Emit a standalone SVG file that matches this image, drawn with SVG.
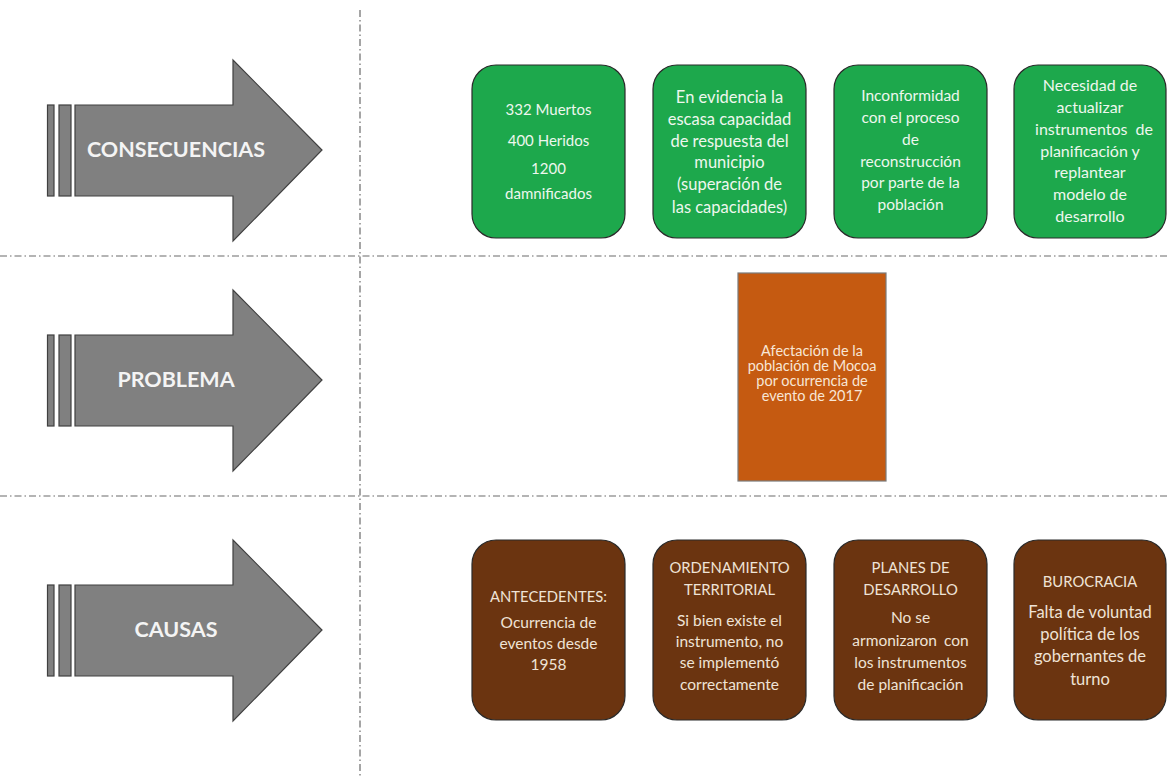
<svg xmlns="http://www.w3.org/2000/svg" width="1169" height="777" viewBox="0 0 1169 777">
<defs>
<style>
.sep{stroke:#6a6a6a;stroke-width:1.2;stroke-dasharray:7 3 1.5 3;fill:none}
.arr{fill:#808080;stroke:#404040;stroke-width:1.2}
.albl{font-family:Lato,"Open Sans",sans-serif;font-weight:bold;font-size:21.5px;fill:#f4f4f4;text-anchor:middle}
.g{fill:#1da84c;stroke:#2a2a2a;stroke-width:1.2}
.b{fill:#6b3410;stroke:#2a2a2a;stroke-width:1.2}
.o{fill:#c55a11;stroke:#7a7a7a;stroke-width:1.2}
.gt{font-family:Lato,"Open Sans",sans-serif;font-size:15.5px;fill:#eef7ee;text-anchor:middle}
.bt{font-family:Lato,"Open Sans",sans-serif;font-size:15.5px;fill:#efe3d6;text-anchor:middle}
.hd{font-size:14.8px}
.big{font-size:16.5px}
.sm{font-size:15px}
.ot{font-family:Lato,"Open Sans",sans-serif;font-size:14.5px;fill:#f8e6d6;text-anchor:middle}
</style>
</defs>
<rect width="1169" height="777" fill="#ffffff"/>
<g id="separators">
<line class="sep" x1="360" y1="10" x2="360" y2="777"/>
<line class="sep" x1="0" y1="256" x2="1169" y2="256"/>
<line class="sep" x1="0" y1="496" x2="1169" y2="496"/>
</g>
<g id="arrow-consecuencias">
<rect class="arr" x="47.5" y="105" width="6.5" height="91"/>
<rect class="arr" x="59" y="105" width="12" height="91"/>
<polygon class="arr" points="75,105 233,105 233,60 322,150 233,241 233,196 75,196"/>
<text class="albl" x="176" y="157">CONSECUENCIAS</text>
</g>
<g id="arrow-problema">
<rect class="arr" x="47.5" y="335" width="6.5" height="91"/>
<rect class="arr" x="59" y="335" width="12" height="91"/>
<polygon class="arr" points="75,335 233,335 233,290 322,380 233,471 233,426 75,426"/>
<text class="albl" x="176" y="387">PROBLEMA</text>
</g>
<g id="arrow-causas">
<rect class="arr" x="47.5" y="585" width="6.5" height="91"/>
<rect class="arr" x="59" y="585" width="12" height="91"/>
<polygon class="arr" points="75,585 233,585 233,540 322,630 233,721 233,676 75,676"/>
<text class="albl" x="176" y="637">CAUSAS</text>
</g>
<g id="cons1">
<rect class="g" x="472" y="65" width="153" height="173" rx="24"/>
<text class="gt sm" x="548.5" y="115">332 Muertos</text>
<text class="gt sm" x="548.5" y="146">400 Heridos</text>
<text class="gt sm" x="548.5" y="174">1200</text>
<text class="gt sm" x="548.5" y="199">damnificados</text>
</g>
<g id="cons2">
<rect class="g" x="653" y="65" width="153" height="173" rx="24"/>
<text class="gt big" x="729.5" y="103">En evidencia la</text>
<text class="gt big" x="729.5" y="125">escasa capacidad</text>
<text class="gt big" x="729.5" y="147">de respuesta del</text>
<text class="gt big" x="729.5" y="168">municipio</text>
<text class="gt big" x="729.5" y="190">(superación de</text>
<text class="gt big" x="729.5" y="213">las capacidades)</text>
</g>
<g id="cons3">
<rect class="g" x="834" y="65" width="153" height="173" rx="24"/>
<text class="gt" x="910.5" y="101">Inconformidad</text>
<text class="gt" x="910.5" y="123">con el proceso</text>
<text class="gt" x="910.5" y="145">de</text>
<text class="gt" x="910.5" y="167">reconstrucción</text>
<text class="gt" x="910.5" y="188">por parte de la</text>
<text class="gt" x="910.5" y="210">población</text>
</g>
<g id="cons4">
<rect class="g" x="1014" y="65" width="152" height="173" rx="24"/>
<text class="gt" x="1090" y="91" style="font-size:16px">Necesidad de</text>
<text class="gt" x="1090" y="113" style="font-size:16px">actualizar</text>
<text class="gt" x="1094" y="135" style="font-size:16px;word-spacing:4px">instrumentos de</text>
<text class="gt" x="1090" y="157" style="font-size:16px">planificación y</text>
<text class="gt" x="1090" y="178" style="font-size:16px">replantear</text>
<text class="gt" x="1090" y="200" style="font-size:16px">modelo de</text>
<text class="gt" x="1090" y="222" style="font-size:16px">desarrollo</text>
</g>
<g id="problema">
<rect class="o" x="738" y="273" width="148" height="208"/>
<text class="ot" x="812" y="356">Afectación de la</text>
<text class="ot" x="812" y="371">población de Mocoa</text>
<text class="ot" x="812" y="386">por ocurrencia de</text>
<text class="ot" x="812" y="401">evento de 2017</text>
</g>
<g id="causa1">
<rect class="b" x="472" y="540" width="153" height="180" rx="24"/>
<text class="bt hd" x="548.5" y="602">ANTECEDENTES:</text>
<text class="bt" x="548.5" y="628">Ocurrencia de</text>
<text class="bt" x="548.5" y="649">eventos desde</text>
<text class="bt" x="548.5" y="670">1958</text>
</g>
<g id="causa2">
<rect class="b" x="653" y="540" width="153" height="180" rx="24"/>
<text class="bt hd" x="729.5" y="573">ORDENAMIENTO</text>
<text class="bt hd" x="729.5" y="595">TERRITORIAL</text>
<text class="bt" x="729.5" y="626">Si bien existe el</text>
<text class="bt" x="729.5" y="647">instrumento, no</text>
<text class="bt" x="729.5" y="668">se implementó</text>
<text class="bt" x="729.5" y="690">correctamente</text>
</g>
<g id="causa3">
<rect class="b" x="834" y="540" width="153" height="180" rx="24"/>
<text class="bt hd" x="910.5" y="573">PLANES DE</text>
<text class="bt hd" x="910.5" y="595">DESARROLLO</text>
<text class="bt" x="910.5" y="623">No se</text>
<text class="bt" x="910.5" y="646" style="word-spacing:3px">armonizaron con</text>
<text class="bt" x="910.5" y="668">los instrumentos</text>
<text class="bt" x="910.5" y="690">de planificación</text>
</g>
<g id="causa4">
<rect class="b" x="1014" y="540" width="152" height="180" rx="24"/>
<text class="bt hd" x="1090" y="587">BUROCRACIA</text>
<text class="bt big" x="1090" y="618">Falta de voluntad</text>
<text class="bt big" x="1090" y="640">política de los</text>
<text class="bt big" x="1090" y="662">gobernantes de</text>
<text class="bt big" x="1090" y="685">turno</text>
</g>
</svg>
